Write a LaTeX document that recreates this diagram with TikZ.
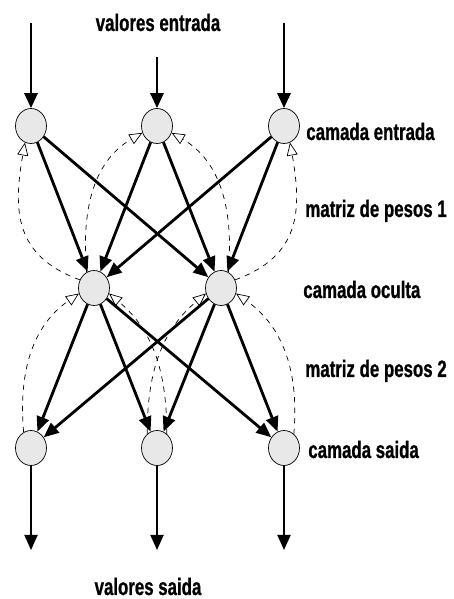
\documentclass[tikz,border=0pt]{standalone}
\usepackage{fontspec}
\newfontfamily\narrowsans{Liberation Sans}[FakeStretch=0.71,
  BoldFeatures={FakeBold=0.8}]
\usetikzlibrary{arrows.meta, shapes.geometric}

\begin{document}
\begin{tikzpicture}[
every edge/.style = {draw=black, line width=1.6pt,
      -{Triangle[length=3mm,width=2.5mm]}},
  nrn/.style = {ellipse, draw, thin, fill=gray!18,
      minimum width=6.2mm, minimum height=7mm, inner sep=0pt},
 back/.style = {draw, thin, dash pattern=on 3pt off 3pt,
      -{Triangle[open,length=2.6mm,width=2.2mm]}},
  ext/.style = {draw, line width=1.6pt, -{Triangle[length=3mm,width=2.6mm]}},
  lbl/.style = {font=\narrowsans\bfseries\fontsize{13.5}{15}\selectfont,
      inner sep=0pt}
                    ]
\useasboundingbox (0,0) rectangle (9.06,11.98);
% camadas
\node (i1) [nrn] at (0.62, 9.46) {};
\node (i2) [nrn] at (3.14, 9.46) {};
\node (i3) [nrn] at (5.68, 9.46) {};
\node (h1) [nrn] at (1.88, 6.22) {};
\node (h2) [nrn] at (4.42, 6.22) {};
\node (o1) [nrn] at (0.62, 3.02) {};
\node (o2) [nrn] at (3.14, 3.02) {};
\node (o3) [nrn] at (5.68, 3.02) {};
 %
\coordinate (in1)  at (0.62, 11.52);
\coordinate (in2)  at (3.14, 10.84);
\coordinate (in3)  at (5.68, 11.52);
\coordinate (out1) at (0.62, 0.98);
\coordinate (out2) at (3.14, 0.98);
\coordinate (out3) at (5.68, 0.98);
 %
\draw[ext] (in1) -- (i1);
\draw[ext] (in2) -- (i2);
\draw[ext] (in3) -- (i3);
\draw[ext, line width=1.1pt] (o1) -- (out1);
\draw[ext, line width=1.1pt] (o2) -- (out2);
\draw[ext, line width=1.1pt] (o3) -- (out3);
 %
\path   (i1) edge (h1)
        (i1) edge (h2)
        (i2) edge (h1)
        (i2) edge (h2)
        (i3) edge (h1)
        (i3) edge (h2);
\path   (h1) edge (o1)
        (h1) edge (o2)
        (h1) edge (o3)
        (h2) edge (o1)
        (h2) edge (o2)
        (h2) edge (o3);
 % retropropagacao
\draw[back] (h1.150) to[out=160,in=-100,looseness=1.2] (i1.250);
\draw[back] (h1.115) to[out=95,in=210] (i2.205);
\draw[back] (h2.65)  to[out=85,in=-30] (i2.-25);
\draw[back] (h2.30)  to[out=20,in=-80,looseness=1.2] (i3.-70);
\draw[back] (o1.115) to[out=95,in=215] (h1.200);
\draw[back] (o2.125) to[out=90,in=220] (h2.200);
\draw[back] (o2.55)  to[out=90,in=-40] (h1.-20);
\draw[back] (o3.55)  to[out=85,in=-35] (h2.-20);
 %
\node[lbl, anchor=base]      (ve) at (3.16, 11.36) {valores entrada};
\node[lbl, anchor=base west] (ce) at (6.12, 9.18)  {camada entrada};
\node[lbl, anchor=base west] (m1) at (6.10, 7.64)  {matriz de pesos 1};
\node[lbl, anchor=base west] (co) at (6.06, 6.02)  {camada oculta};
\node[lbl, anchor=base west] (m2) at (6.10, 4.44)  {matriz de pesos 2};
\node[lbl, anchor=base west] (cs) at (6.16, 2.82)  {camada saida};
\node[lbl, anchor=base]      (vs) at (2.96, 0.08)  {valores saida};
\end{tikzpicture}
\end{document}
